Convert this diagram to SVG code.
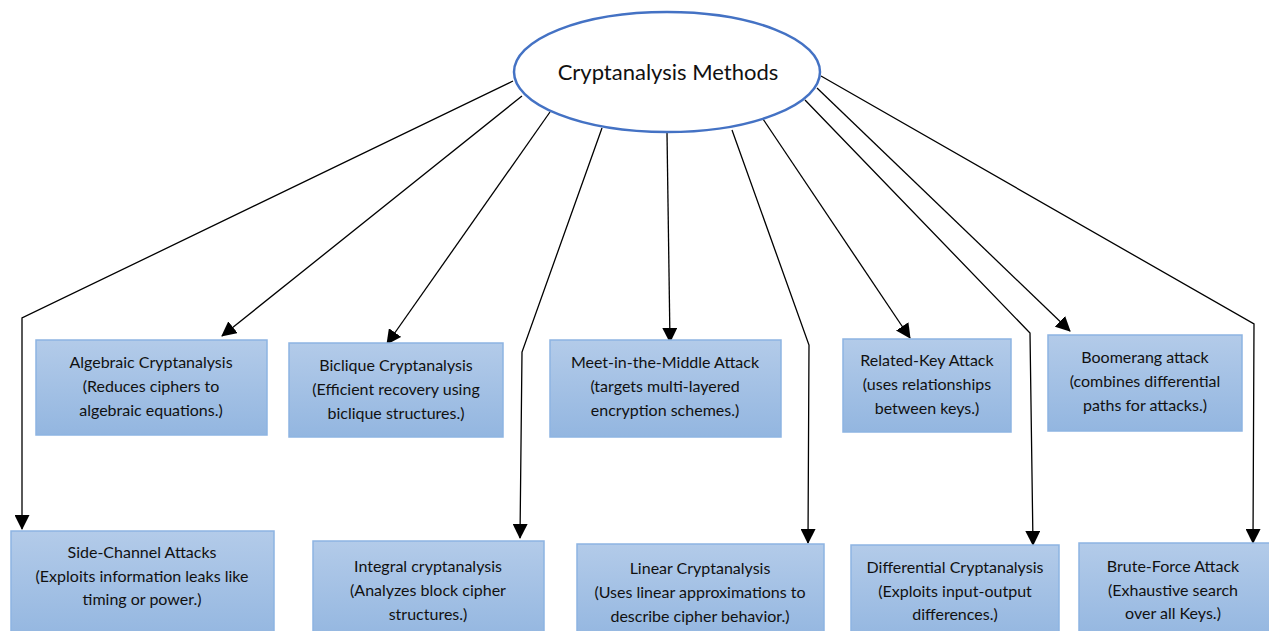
<svg xmlns="http://www.w3.org/2000/svg" width="1269" height="631" viewBox="0 0 1269 631">
<defs>
<linearGradient id="boxGrad" x1="0" y1="0" x2="0" y2="1">
<stop offset="0" stop-color="#b3cbe9"/>
<stop offset="1" stop-color="#93b6e0"/>
</linearGradient>
<marker id="arrow" markerUnits="userSpaceOnUse" markerWidth="15" markerHeight="15" viewBox="0 0 15 15" refX="14" refY="7.5" orient="auto">
<path d="M0,0 L15,7.5 L0,15 Z" fill="#000"/>
</marker>
</defs>
<style>
.box{fill:url(#boxGrad);stroke:#8db4e2;stroke-width:1.5}
.t{font-family:Lato,"Liberation Sans",sans-serif;font-size:16px;fill:#111;text-anchor:middle}
.title{font-family:Lato,"Liberation Sans",sans-serif;font-size:22px;fill:#111;text-anchor:middle}
.c{fill:none;stroke:#000;stroke-width:1.3;marker-end:url(#arrow)}
</style>
<rect width="1269" height="631" fill="#fff"/>
<g id="connectors">
<polyline class="c" points="513,81 22,318 22,529"/>
<line class="c" x1="522" y1="96" x2="222" y2="336"/>
<line class="c" x1="550" y1="112" x2="387" y2="344"/>
<polyline class="c" points="602,128 522,352 520,538"/>
<line class="c" x1="667" y1="133" x2="670" y2="342"/>
<polyline class="c" points="732,130 809,345 808,543"/>
<line class="c" x1="763" y1="119" x2="910" y2="338"/>
<polyline class="c" points="805,100 1030,333 1033,545"/>
<line class="c" x1="817" y1="88" x2="1070" y2="331"/>
<polyline class="c" points="821,76 1254,324 1253,543"/>
</g>
<g id="root">
<ellipse cx="667" cy="72" rx="153" ry="60" fill="#fff" stroke="#4472c4" stroke-width="2.5"/>
<text class="title" x="668" y="80">Cryptanalysis Methods</text>
</g>
<g id="algebraic">
<rect class="box" x="36" y="340" width="231" height="95"/>
<text class="t" x="151" y="368">Algebraic Cryptanalysis</text>
<text class="t" x="151" y="392">(Reduces ciphers to</text>
<text class="t" x="151" y="416">algebraic equations.)</text>
</g>
<g id="biclique">
<rect class="box" x="289" y="343" width="214" height="94"/>
<text class="t" x="396" y="371">Biclique Cryptanalysis</text>
<text class="t" x="396" y="395">(Efficient recovery using</text>
<text class="t" x="396" y="419">biclique structures.)</text>
</g>
<g id="meet">
<rect class="box" x="550" y="340" width="231" height="97"/>
<text class="t" x="665" y="368">Meet-in-the-Middle Attack</text>
<text class="t" x="665" y="392">(targets multi-layered</text>
<text class="t" x="665" y="416">encryption schemes.)</text>
</g>
<g id="relatedkey">
<rect class="box" x="843" y="339" width="168" height="93"/>
<text class="t" x="927" y="366">Related-Key Attack</text>
<text class="t" x="927" y="390">(uses relationships</text>
<text class="t" x="927" y="414">between keys.)</text>
</g>
<g id="boomerang">
<rect class="box" x="1048" y="335" width="194" height="96"/>
<text class="t" x="1145" y="363">Boomerang attack</text>
<text class="t" x="1145" y="387">(combines differential</text>
<text class="t" x="1145" y="411">paths for attacks.)</text>
</g>
<g id="sidechannel">
<rect class="box" x="11" y="531" width="263" height="110"/>
<text class="t" x="142" y="558">Side-Channel Attacks</text>
<text class="t" x="142" y="582">(Exploits information leaks like</text>
<text class="t" x="142" y="605">timing or power.)</text>
</g>
<g id="integral">
<rect class="box" x="313" y="541" width="231" height="100"/>
<text class="t" x="428" y="572">Integral cryptanalysis</text>
<text class="t" x="428" y="596">(Analyzes block cipher</text>
<text class="t" x="428" y="620">structures.)</text>
</g>
<g id="linear">
<rect class="box" x="577" y="544" width="247" height="97"/>
<text class="t" x="700" y="574">Linear Cryptanalysis</text>
<text class="t" x="700" y="598">(Uses linear approximations to</text>
<text class="t" x="700" y="622">describe cipher behavior.)</text>
</g>
<g id="differential">
<rect class="box" x="851" y="545" width="208" height="96"/>
<text class="t" x="955" y="573">Differential Cryptanalysis</text>
<text class="t" x="955" y="597">(Exploits input-output</text>
<text class="t" x="955" y="620">differences.)</text>
</g>
<g id="bruteforce">
<rect class="box" x="1079" y="543" width="195" height="98"/>
<text class="t" x="1173" y="572">Brute-Force Attack</text>
<text class="t" x="1173" y="596">(Exhaustive search</text>
<text class="t" x="1173" y="619">over all Keys.)</text>
</g>
</svg>
